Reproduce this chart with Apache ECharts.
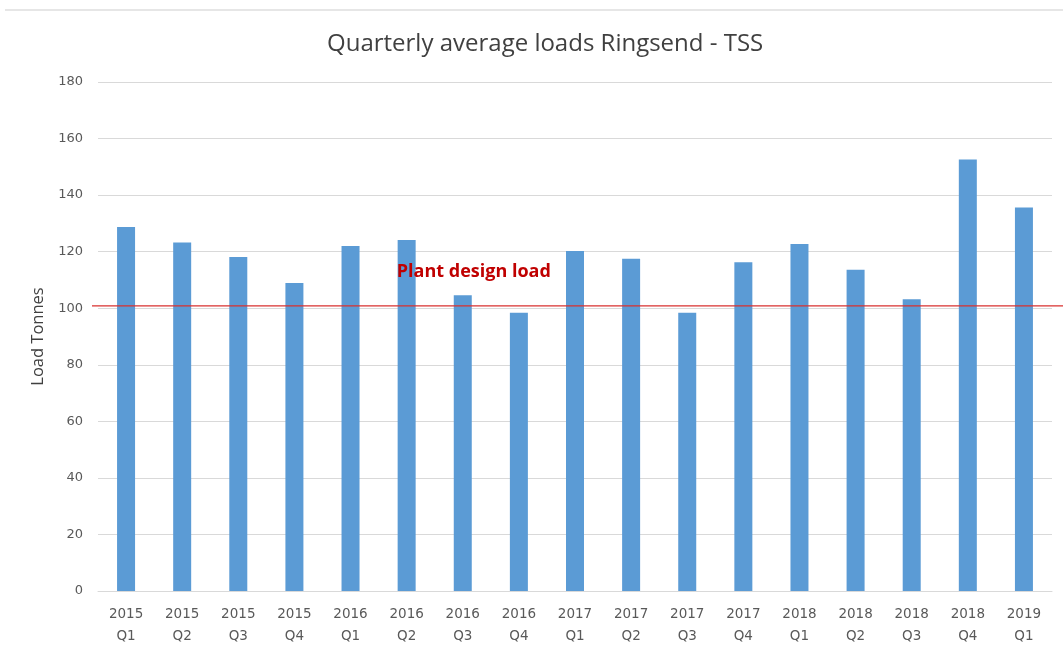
<!DOCTYPE html>
<html>
<head>
<meta charset="utf-8">
<script src="https://cdn.jsdelivr.net/npm/echarts@6/dist/echarts.min.js"></script>
<style>
html,body{margin:0;padding:0;background:#fff;}
#c{width:1063px;height:659px;}
</style>
</head>
<body>
<div id="c"></div>
<script>
const categories = ["2015\nQ1","2015\nQ2","2015\nQ3","2015\nQ4","2016\nQ1","2016\nQ2","2016\nQ3","2016\nQ4","2017\nQ1","2017\nQ2","2017\nQ3","2017\nQ4","2018\nQ1","2018\nQ2","2018\nQ3","2018\nQ4","2019\nQ1"];
const loads = [128.7, 123.2, 118.1, 108.9, 122.0, 124.1, 104.6, 98.4, 120.2, 117.5, 98.4, 116.3, 122.7, 113.6, 103.2, 152.6, 135.6];
const designLoad = 100.8;
const designLabel = "Plant design load";
const yTicks = [0, 20, 40, 60, 80, 100, 120, 140, 160, 180];

const chart = echarts.init(document.getElementById('c'));
const borderLine = {
  type: 'line',
  shape: {x1: 5, y1: 10, x2: 1063, y2: 10},
  style: {stroke: '#e6e6e6', lineWidth: 2}
};
chart.setOption({
  animation: false,
  backgroundColor: '#ffffff',
  title: {
    text: 'Quarterly average loads Ringsend - TSS',
    left: 322,
    top: 27,
    textStyle: {fontFamily: 'Open Sans', fontSize: 24, fontWeight: 'normal', color: '#404040'}
  },
  grid: {left: 98, right: 11, top: 82, bottom: 68, containLabel: false},
  xAxis: {
    type: 'category',
    data: categories,
    axisTick: {show: false},
    axisLine: {lineStyle: {color: '#d9d9d9'}},
    axisLabel: {fontFamily: 'DejaVu Sans', fontSize: 13.5, color: '#595959', margin: 12, lineHeight: 22, interval: 0}
  },
  yAxis: {
    type: 'value',
    min: yTicks[0],
    max: yTicks[yTicks.length - 1],
    interval: 20,
    name: 'Load Tonnes',
    nameLocation: 'middle',
    nameGap: 49,
    nameRotate: 90,
    nameTextStyle: {fontFamily: 'Open Sans', fontSize: 16.5, color: '#404040'},
    axisLine: {show: false},
    axisTick: {show: false},
    splitLine: {lineStyle: {color: '#d9d9d9'}},
    axisLabel: {fontFamily: 'DejaVu Sans', fontSize: 13, color: '#595959', margin: 15}
  },
  series: [{
    type: 'bar',
    data: loads,
    barWidth: 18,
    itemStyle: {color: '#5b9bd5'}
  }],
  graphic: [borderLine]
});

const yPix = chart.convertToPixel({yAxisIndex: 0}, designLoad);
const xMid = (chart.convertToPixel({xAxisIndex: 0}, categories[6]) + chart.convertToPixel({xAxisIndex: 0}, categories[7])) / 2 - 17;
chart.setOption({
  graphic: [borderLine, {
    type: 'line',
    shape: {x1: 92, y1: yPix, x2: 1063, y2: yPix},
    style: {stroke: '#d9302f', lineWidth: 1.2},
    z: 10
  }, {
    type: 'text',
    x: xMid,
    y: yPix - 34,
    style: {text: designLabel, fill: '#c00000', font: 'bold 18px "Open Sans"', textAlign: 'center', textVerticalAlign: 'middle'},
    z: 11
  }]
});
</script>
</body>
</html>
